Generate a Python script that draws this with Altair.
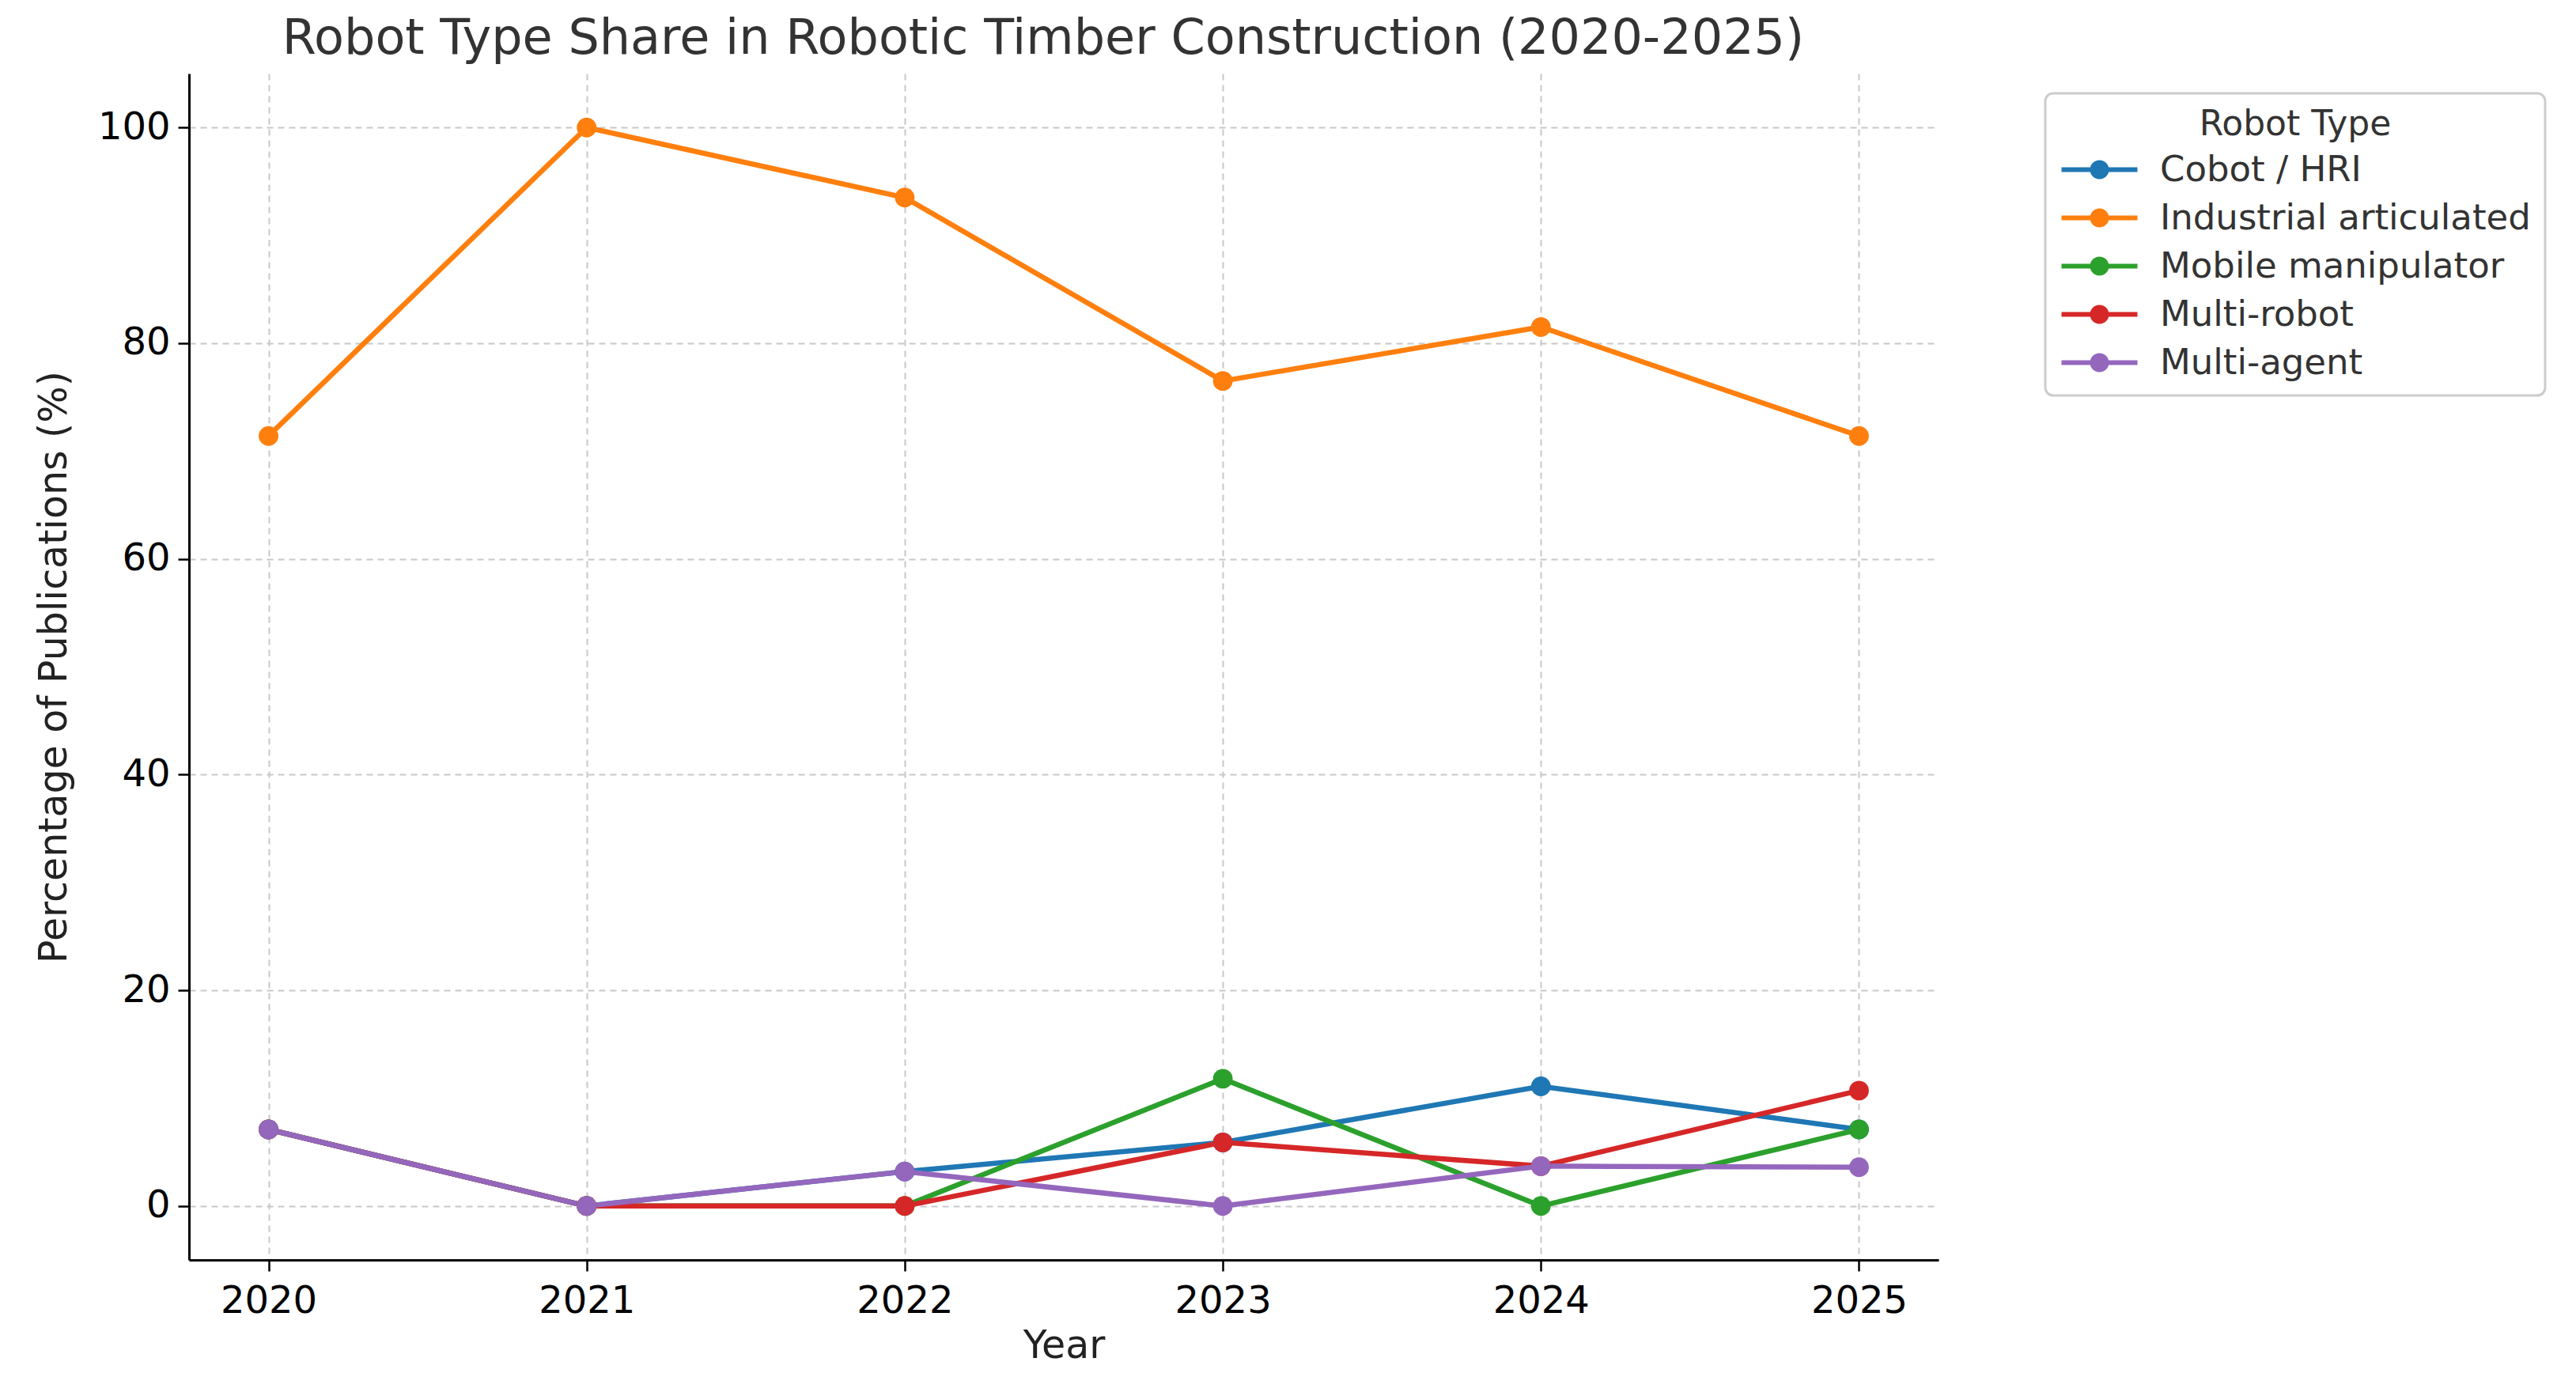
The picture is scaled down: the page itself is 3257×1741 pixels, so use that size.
import altair as alt
import pandas as pd

years = [2020, 2021, 2022, 2023, 2024, 2025]
types = ["Cobot / HRI", "Industrial articulated", "Mobile manipulator", "Multi-robot", "Multi-agent"]
colors = ["#1f77b4", "#ff7f0e", "#2ca02c", "#d62728", "#9467bd"]

cobot = [7.1, 0.0, 3.2, 5.9, 11.1, 7.1]
industrial = [71.4, 100.0, 93.5, 76.5, 81.5, 71.4]
mobile = [7.1, 0.0, 0.0, 11.8, 0.0, 7.1]
multi_robot = [7.1, 0.0, 0.0, 5.9, 3.7, 10.7]
multi_agent = [7.1, 0.0, 3.2, 0.0, 3.7, 3.6]

series = [cobot, industrial, mobile, multi_robot, multi_agent]
rows = []
for t, vals in zip(types, series):
    for y, v in zip(years, vals):
        rows.append({"Year": y, "Robot Type": t, "Share": v})
df = pd.DataFrame(rows)

legend_path = ("M-2.4,-0.15L2.4,-0.15L2.4,0.15L-2.4,0.15Z "
               "M0.6,0A0.6,0.6 0 1,1 -0.6,0A0.6,0.6 0 1,1 0.6,0Z")

x_enc = alt.X("Year:Q",
              scale=alt.Scale(domain=[2019.75, 2025.25], nice=False, zero=False),
              axis=alt.Axis(values=years, format="d", title="Year"))
y_enc = alt.Y("Share:Q",
              scale=alt.Scale(domain=[-5, 105], nice=False, zero=False),
              axis=alt.Axis(values=[0, 20, 40, 60, 80, 100],
                            title="Percentage of Publications (%)"))

# line colours: same mapping, domain listed in reverse so its (hidden) legend is kept apart
lines = alt.Chart(df).mark_line(strokeWidth=6.5).encode(
    x=x_enc, y=y_enc,
    stroke=alt.Stroke("Robot Type:N",
                      scale=alt.Scale(domain=types[::-1], range=colors[::-1]),
                      legend=None),
    order=alt.Order("Year:Q"),
)

points = alt.Chart(df).mark_point(filled=True, shape="circle", size=620, opacity=1, strokeWidth=0).encode(
    x=x_enc, y=y_enc,
    fill=alt.Fill("Robot Type:N", scale=alt.Scale(domain=types, range=colors),
                  legend=alt.Legend(title="Robot Type", orient="none",
                                    legendX=2347, legendY=25,
                                    symbolType=legend_path, symbolSize=1600,
                                    symbolOffset=28, labelOffset=54,
                                    symbolStrokeWidth=0, symbolOpacity=1,
                                    labelLimit=0, titleLimit=0)),
)

chart = alt.layer(lines, points).properties(
    width=2212, height=1500,
    title=alt.Title("Robot Type Share in Robotic Timber Construction (2020-2025)",
                    fontSize=62, font="DejaVu Sans", fontWeight="normal",
                    color="#333333", anchor="middle", offset=12, dx=-26),
    autosize=alt.AutoSizeParams(type="none"),
    padding={"left": 231, "top": 85, "right": 790, "bottom": 138},
).configure_view(
    stroke=None
).configure_axis(
    labelFont="DejaVu Sans", titleFont="DejaVu Sans",
    labelFontSize=48, titleFontSize=49, titleFontWeight="normal",
    labelColor="#000000", titleColor="#222222",
    domainColor="#000000", domainWidth=3,
    tickColor="#000000", tickWidth=2.5, tickSize=14,
    grid=True, gridColor="#c8c8c8", gridDash=[8, 6], gridWidth=2,
    labelPadding=10,
).configure_axisX(
    titlePadding=8, labelPadding=14
).configure_axisY(
    titlePadding=30
).configure_legend(
    labelFont="DejaVu Sans", titleFont="DejaVu Sans",
    labelFontSize=45, titleFontSize=44, titleFontWeight="normal",
    labelColor="#333333", titleColor="#333333",
    titleAnchor="middle", titleAlign="center",
    strokeColor="#cccccc", strokeWidth=3, cornerRadius=10,
    padding=18, rowPadding=15, titlePadding=12,
    fillColor="#ffffff",
)

chart.save("out.html", embed_options={"renderer": "svg", "actions": False})
